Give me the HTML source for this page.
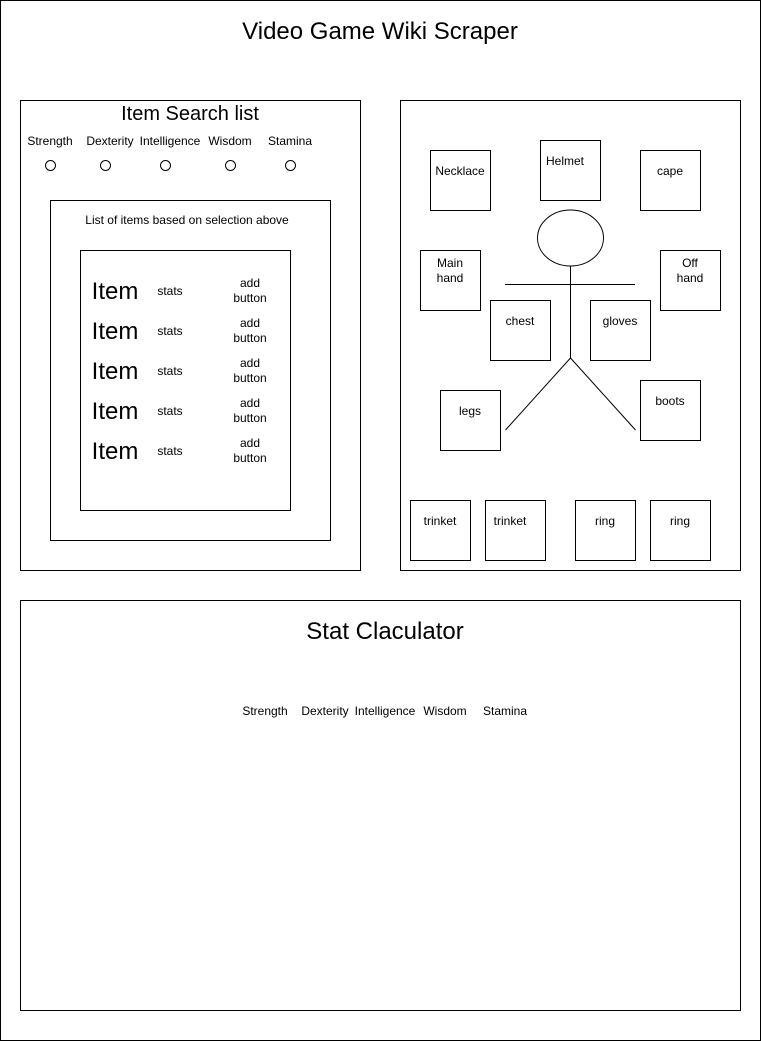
<!DOCTYPE html>
<html><head><meta charset="utf-8"><style>
html,body{margin:0;padding:0;background:#fff;}
svg{display:block;}
text{font-family:"Liberation Sans",Arial,sans-serif;fill:#000;text-anchor:middle;}
</style></head><body>
<svg width="761" height="1041" viewBox="0 0 761 1041" xmlns="http://www.w3.org/2000/svg">
<g fill="none" stroke="#000" stroke-width="1">
<rect x="0.5" y="0.5" width="760" height="1040"/>
<rect x="20.5" y="100.5" width="340" height="470"/>
<rect x="50.5" y="200.5" width="280" height="340"/>
<rect x="80.5" y="250.5" width="210" height="260"/>
<circle cx="50.5" cy="165.5" r="5"/>
<circle cx="105.5" cy="165.5" r="5"/>
<circle cx="165.5" cy="165.5" r="5"/>
<circle cx="230.5" cy="165.5" r="5"/>
<circle cx="290.5" cy="165.5" r="5"/>
<rect x="400.5" y="100.5" width="340" height="470"/>
<rect x="430.5" y="150.5" width="60" height="60"/>
<rect x="540.5" y="140.5" width="60" height="60"/>
<rect x="640.5" y="150.5" width="60" height="60"/>
<rect x="420.5" y="250.5" width="60" height="60"/>
<rect x="660.5" y="250.5" width="60" height="60"/>
<rect x="490.5" y="300.5" width="60" height="60"/>
<rect x="590.5" y="300.5" width="60" height="60"/>
<rect x="440.5" y="390.5" width="60" height="60"/>
<rect x="640.5" y="380.5" width="60" height="60"/>
<rect x="410.5" y="500.5" width="60" height="60"/>
<rect x="485.5" y="500.5" width="60" height="60"/>
<rect x="575.5" y="500.5" width="60" height="60"/>
<rect x="650.5" y="500.5" width="60" height="60"/>
<ellipse cx="570.5" cy="238" rx="33" ry="28"/>
<line x1="505" y1="284.5" x2="635" y2="284.5"/>
<line x1="570.5" y1="266" x2="570.5" y2="358"/>
<line x1="570.5" y1="358" x2="505.5" y2="430"/>
<line x1="570.5" y1="358" x2="635.5" y2="430"/>
<rect x="20.5" y="600.5" width="720" height="410"/>
</g>
<text x="380" y="39" font-size="24">Video Game Wiki Scraper</text>
<text x="190" y="120" font-size="20">Item Search list</text>
<g font-size="12">
<text x="50" y="145">Strength</text>
<text x="110" y="145">Dexterity</text>
<text x="170" y="145">Intelligence</text>
<text x="230" y="145">Wisdom</text>
<text x="290" y="145">Stamina</text>
<text x="187" y="224">List of items based on selection above</text>
</g>
<g font-size="24"><text x="115" y="299">Item</text><text x="115" y="339">Item</text><text x="115" y="379">Item</text><text x="115" y="419">Item</text><text x="115" y="459">Item</text></g>
<g font-size="12">
<text x="170" y="295">stats</text><text x="170" y="335">stats</text><text x="170" y="375">stats</text><text x="170" y="415">stats</text><text x="170" y="455">stats</text>
<text x="250" y="287">add</text><text x="250" y="302">button</text>
<text x="250" y="327">add</text><text x="250" y="342">button</text>
<text x="250" y="367">add</text><text x="250" y="382">button</text>
<text x="250" y="407">add</text><text x="250" y="422">button</text>
<text x="250" y="447">add</text><text x="250" y="462">button</text>
<text x="460" y="175">Necklace</text>
<text x="565" y="165">Helmet</text>
<text x="670" y="175">cape</text>
<text x="450" y="267">Main</text><text x="450" y="282">hand</text>
<text x="690" y="267">Off</text><text x="690" y="282">hand</text>
<text x="520" y="325">chest</text>
<text x="620" y="325">gloves</text>
<text x="470" y="415">legs</text>
<text x="670" y="405">boots</text>
<text x="440" y="525">trinket</text>
<text x="510" y="525">trinket</text>
<text x="605" y="525">ring</text>
<text x="680" y="525">ring</text>
</g>
<text x="385" y="639" font-size="24">Stat Claculator</text>
<g font-size="12">
<text x="265" y="715">Strength</text>
<text x="325" y="715">Dexterity</text>
<text x="385" y="715">Intelligence</text>
<text x="445" y="715">Wisdom</text>
<text x="505" y="715">Stamina</text>
</g>
</svg>
</body></html>
